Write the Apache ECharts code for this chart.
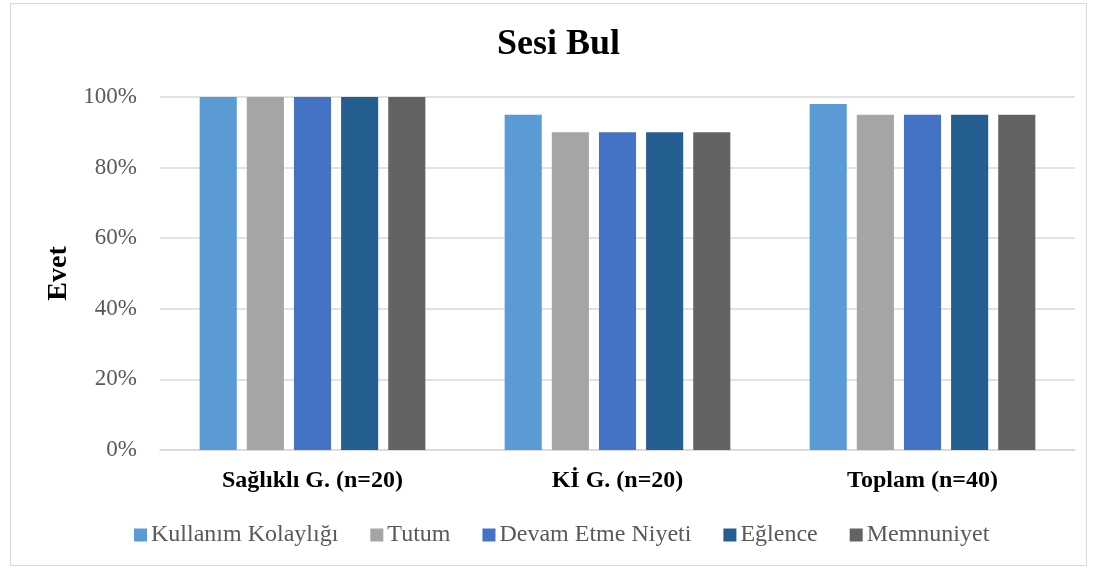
<!DOCTYPE html>
<html>
<head>
<meta charset="utf-8">
<script src="https://cdn.jsdelivr.net/npm/echarts@6/dist/echarts.min.js"></script>
<style>
  html, body { margin: 0; padding: 0; background: #fff; }
  #frame { position: absolute; left: 10px; top: 3px; width: 1077px; height: 563px; border: 1px solid #d9d9d9; box-sizing: border-box; }
  #chart { position: absolute; left: 0; top: 0; width: 1097px; height: 569px; }
</style>
</head>
<body>
<div id="frame"></div>
<div id="chart"></div>
<script>
// Groups on the x axis
const categories = ['Sağlıklı G. (n=20)', 'Kİ G. (n=20)', 'Toplam (n=40)'];
// Share of "yes" answers per measure (%)
const kullanimKolayligi = [100, 95, 98];
const tutum = [100, 90, 95];
const devamEtmeNiyeti = [100, 90, 95];
const eglence = [100, 90, 95];
const memnuniyet = [100, 90, 95];
const seriesNames = ['Kullanım Kolaylığı', 'Tutum', 'Devam Etme Niyeti', 'Eğlence', 'Memnuniyet'];
const seriesData = [kullanimKolayligi, tutum, devamEtmeNiyeti, eglence, memnuniyet];
const colors = ['#5B9BD5', '#A5A5A5', '#4472C4', '#255E91', '#636363'];

const serif = '"Liberation Serif", "Times New Roman", serif';
const chart = echarts.init(document.getElementById('chart'));
chart.setOption({
  animation: false,
  color: colors,
  title: {
    text: 'Sesi Bul',
    left: 492,
    top: 22,
    textStyle: { fontFamily: serif, fontSize: 36, fontWeight: 'bold', color: '#000' }
  },
  legend: {
    top: 518,
    left: 129,
    itemWidth: 13,
    itemHeight: 13,
    itemGap: 32,
    icon: 'rect',
    textStyle: { fontFamily: serif, fontSize: 24, color: '#595959', padding: [0, 0, 0, -1] },
    data: seriesNames
  },
  grid: { left: 160, right: 22, top: 97, bottom: 119, containLabel: false },
  xAxis: {
    type: 'category',
    data: categories,
    axisTick: { show: false },
    axisLine: { lineStyle: { color: '#d9d9d9', width: 1.5 } },
    axisLabel: { fontFamily: serif, fontSize: 24, fontWeight: 'bold', color: '#000', margin: 19 }
  },
  yAxis: {
    type: 'value',
    min: 0,
    max: 100,
    interval: 20,
    name: 'Evet',
    nameLocation: 'middle',
    nameGap: 83,
    nameTextStyle: { fontFamily: serif, fontSize: 28, fontWeight: 'bold', color: '#000' },
    axisLabel: { fontFamily: serif, fontSize: 23, color: '#595959', margin: 23, formatter: '{value}%' },
    splitLine: { lineStyle: { color: '#d9d9d9', width: 1.5 } },
    axisLine: { show: false },
    axisTick: { show: false }
  },
  series: seriesNames.map((name, i) => ({
    name: name,
    type: 'bar',
    data: seriesData[i],
    barGap: '27%',
    barCategoryGap: '26%'
  }))
});
</script>
</body>
</html>
